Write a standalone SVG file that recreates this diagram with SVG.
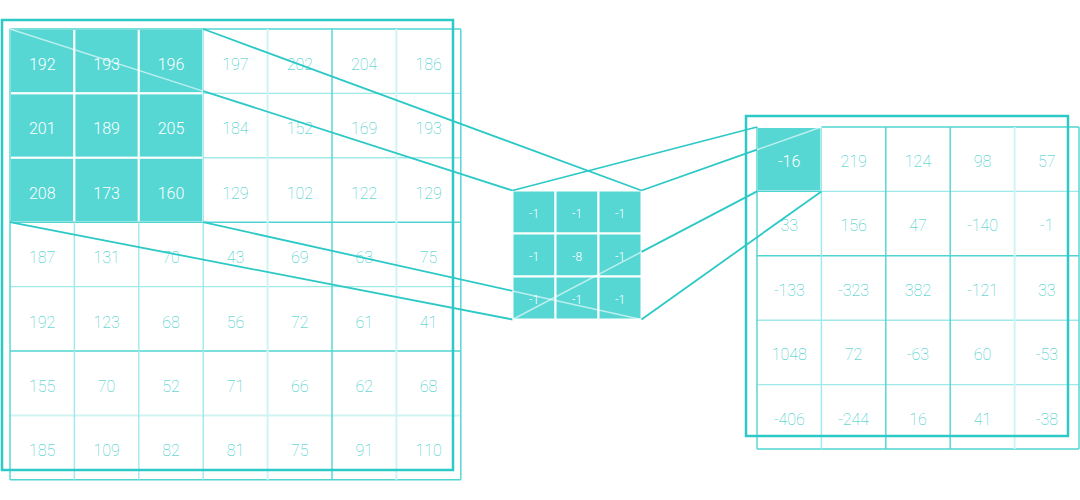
<svg xmlns="http://www.w3.org/2000/svg" width="1080" height="500" viewBox="0 0 1080 500">
<style>
.bg{fill:#ffffff}
.frame{fill:none;stroke:#2cc9c6;stroke-width:2.5}
.gm{stroke:#4fd4d1;stroke-width:1.4}
.gl{stroke:#9fe9e8;stroke-width:1.4}
.gv{stroke:#d0f4f4;stroke-width:2}
.hi{fill:#56d7d4;stroke:#ffffff;stroke-width:2}
.t{font-family:Roboto,"Liberation Sans",sans-serif;font-weight:100;font-size:16px;fill:#2cc9c6;text-anchor:middle}
.tw{font-family:Roboto,"Liberation Sans",sans-serif;font-weight:300;font-size:16px;fill:#ffffff;text-anchor:middle}
.tk{font-family:Roboto,"Liberation Sans",sans-serif;font-weight:300;font-size:12px;fill:#ffffff;text-anchor:middle}
.c{stroke:#2cc9c6;stroke-width:1.8;fill:none}
.cw{stroke:#ffffff;stroke-width:1.5;stroke-opacity:0.6;fill:none}
</style>
<rect class="bg" x="0" y="0" width="1080" height="500"/>

<g id="input-matrix">
  <rect class="hi" x="10" y="29" width="64.4" height="64.4"/>
  <rect class="hi" x="74.4" y="29" width="64.4" height="64.4"/>
  <rect class="hi" x="138.8" y="29" width="64.4" height="64.4"/>
  <rect class="hi" x="10" y="93.4" width="64.4" height="64.4"/>
  <rect class="hi" x="74.4" y="93.4" width="64.4" height="64.4"/>
  <rect class="hi" x="138.8" y="93.4" width="64.4" height="64.4"/>
  <rect class="hi" x="10" y="157.8" width="64.4" height="64.4"/>
  <rect class="hi" x="74.4" y="157.8" width="64.4" height="64.4"/>
  <rect class="hi" x="138.8" y="157.8" width="64.4" height="64.4"/>
  <line class="gm" x1="10" y1="29" x2="460.8" y2="29"/>
  <line class="gl" x1="203.2" y1="93.4" x2="460.8" y2="93.4"/>
  <line class="gl" x1="203.2" y1="157.8" x2="460.8" y2="157.8"/>
  <line class="gm" x1="10" y1="222.2" x2="460.8" y2="222.2"/>
  <line class="gl" x1="10" y1="286.6" x2="460.8" y2="286.6"/>
  <line class="gm" x1="10" y1="351" x2="460.8" y2="351"/>
  <line class="gv" x1="10" y1="415.4" x2="460.8" y2="415.4"/>
  <line class="gm" x1="10" y1="479.8" x2="460.8" y2="479.8"/>
  <line class="gm" x1="10" y1="29" x2="10" y2="479.8"/>
  <line class="gl" x1="74.4" y1="222.2" x2="74.4" y2="479.8"/>
  <line class="gl" x1="138.8" y1="222.2" x2="138.8" y2="479.8"/>
  <line class="gl" x1="203.2" y1="29" x2="203.2" y2="479.8"/>
  <line class="gv" x1="267.6" y1="29" x2="267.6" y2="479.8"/>
  <line class="gm" x1="332" y1="29" x2="332" y2="479.8"/>
  <line class="gv" x1="396.4" y1="29" x2="396.4" y2="479.8"/>
  <line class="gm" x1="460.8" y1="29" x2="460.8" y2="479.8"/>
  <rect class="frame" x="2" y="20" width="451" height="450"/>
  <text class="tw" x="42.2" y="70">192</text><text class="tw" x="106.6" y="70">193</text><text class="tw" x="171" y="70">196</text>
  <text class="t" x="235.4" y="70">197</text><text class="t" x="299.8" y="70">202</text><text class="t" x="364.2" y="70">204</text><text class="t" x="428.6" y="70">186</text>
  <text class="tw" x="42.2" y="134.4">201</text><text class="tw" x="106.6" y="134.4">189</text><text class="tw" x="171" y="134.4">205</text>
  <text class="t" x="235.4" y="134.4">184</text><text class="t" x="299.8" y="134.4">152</text><text class="t" x="364.2" y="134.4">169</text><text class="t" x="428.6" y="134.4">193</text>
  <text class="tw" x="42.2" y="198.8">208</text><text class="tw" x="106.6" y="198.8">173</text><text class="tw" x="171" y="198.8">160</text>
  <text class="t" x="235.4" y="198.8">129</text><text class="t" x="299.8" y="198.8">102</text><text class="t" x="364.2" y="198.8">122</text><text class="t" x="428.6" y="198.8">129</text>
  <text class="t" x="42.2" y="263.2">187</text><text class="t" x="106.6" y="263.2">131</text><text class="t" x="171" y="263.2">70</text><text class="t" x="235.4" y="263.2">43</text><text class="t" x="299.8" y="263.2">69</text><text class="t" x="364.2" y="263.2">63</text><text class="t" x="428.6" y="263.2">75</text>
  <text class="t" x="42.2" y="327.6">192</text><text class="t" x="106.6" y="327.6">123</text><text class="t" x="171" y="327.6">68</text><text class="t" x="235.4" y="327.6">56</text><text class="t" x="299.8" y="327.6">72</text><text class="t" x="364.2" y="327.6">61</text><text class="t" x="428.6" y="327.6">41</text>
  <text class="t" x="42.2" y="392">155</text><text class="t" x="106.6" y="392">70</text><text class="t" x="171" y="392">52</text><text class="t" x="235.4" y="392">71</text><text class="t" x="299.8" y="392">66</text><text class="t" x="364.2" y="392">62</text><text class="t" x="428.6" y="392">68</text>
  <text class="t" x="42.2" y="456.4">185</text><text class="t" x="106.6" y="456.4">109</text><text class="t" x="171" y="456.4">82</text><text class="t" x="235.4" y="456.4">81</text><text class="t" x="299.8" y="456.4">75</text><text class="t" x="364.2" y="456.4">91</text><text class="t" x="428.6" y="456.4">110</text>
</g>

<g id="kernel">
  <rect class="hi" x="512.5" y="190.5" width="43" height="43"/>
  <rect class="hi" x="555.5" y="190.5" width="43" height="43"/>
  <rect class="hi" x="598.5" y="190.5" width="43" height="43"/>
  <rect class="hi" x="512.5" y="233.5" width="43" height="43"/>
  <rect class="hi" x="555.5" y="233.5" width="43" height="43"/>
  <rect class="hi" x="598.5" y="233.5" width="43" height="43"/>
  <rect class="hi" x="512.5" y="276.5" width="43" height="43"/>
  <rect class="hi" x="555.5" y="276.5" width="43" height="43"/>
  <rect class="hi" x="598.5" y="276.5" width="43" height="43"/>
  <text class="tk" x="534" y="218">-1</text><text class="tk" x="577" y="218">-1</text><text class="tk" x="620" y="218">-1</text>
  <text class="tk" x="534" y="261">-1</text><text class="tk" x="577" y="261">-8</text><text class="tk" x="620" y="261">-1</text>
  <text class="tk" x="534" y="304">-1</text><text class="tk" x="577" y="304">-1</text><text class="tk" x="620" y="304">-1</text>
</g>

<g id="output-matrix">
  <rect class="hi" x="757" y="127" width="64.4" height="64.4"/>
  <line class="gm" x1="821.4" y1="127" x2="1079" y2="127"/>
  <line class="gl" x1="821.4" y1="191.4" x2="1079" y2="191.4"/>
  <line class="gm" x1="757" y1="191.4" x2="821.4" y2="191.4"/>
  <line class="gm" x1="757" y1="255.8" x2="1079" y2="255.8"/>
  <line class="gl" x1="757" y1="320.2" x2="1079" y2="320.2"/>
  <line class="gl" x1="757" y1="384.6" x2="1079" y2="384.6"/>
  <line class="gm" x1="757" y1="449" x2="1079" y2="449"/>
  <line class="gm" x1="757" y1="127" x2="757" y2="449"/>
  <line class="gl" x1="821.4" y1="127" x2="821.4" y2="449"/>
  <line class="gm" x1="885.8" y1="127" x2="885.8" y2="449"/>
  <line class="gm" x1="950.2" y1="127" x2="950.2" y2="449"/>
  <line class="gv" x1="1014.6" y1="127" x2="1014.6" y2="449"/>
  <line class="gm" x1="1079" y1="127" x2="1079" y2="449"/>
  <rect class="frame" x="746" y="116" width="322" height="320"/>
  <text class="tw" x="789.2" y="167">-16</text><text class="t" x="853.6" y="167">219</text><text class="t" x="918" y="167">124</text><text class="t" x="982.4" y="167">98</text><text class="t" x="1046.8" y="167">57</text>
  <text class="t" x="789.2" y="231.4">33</text><text class="t" x="853.6" y="231.4">156</text><text class="t" x="918" y="231.4">47</text><text class="t" x="982.4" y="231.4">-140</text><text class="t" x="1046.8" y="231.4">-1</text>
  <text class="t" x="789.2" y="295.8">-133</text><text class="t" x="853.6" y="295.8">-323</text><text class="t" x="918" y="295.8">382</text><text class="t" x="982.4" y="295.8">-121</text><text class="t" x="1046.8" y="295.8">33</text>
  <text class="t" x="789.2" y="360.2">1048</text><text class="t" x="853.6" y="360.2">72</text><text class="t" x="918" y="360.2">-63</text><text class="t" x="982.4" y="360.2">60</text><text class="t" x="1046.8" y="360.2">-53</text>
  <text class="t" x="789.2" y="424.6">-406</text><text class="t" x="853.6" y="424.6">-244</text><text class="t" x="918" y="424.6">16</text><text class="t" x="982.4" y="424.6">41</text><text class="t" x="1046.8" y="424.6">-38</text>
</g>

<g id="connectors">
  <line class="c" x1="203.2" y1="29" x2="641.5" y2="190.5"/>
  <line class="cw" x1="10" y1="29" x2="203.2" y2="91.1"/>
  <line class="c" x1="203.2" y1="91.1" x2="512.5" y2="190.5"/>
  <line class="c" x1="10" y1="222.2" x2="512.5" y2="319.5"/>
  <line class="c" x1="203.2" y1="222.2" x2="512.5" y2="290.9"/>
  <line class="cw" x1="512.5" y1="290.9" x2="641.5" y2="319.5"/>
  <line class="c" x1="512.5" y1="190.5" x2="757" y2="127"/>
  <line class="c" x1="641.5" y1="190.5" x2="757" y2="149.7"/>
  <line class="cw" x1="757" y1="149.7" x2="821.4" y2="127"/>
  <line class="cw" x1="512.5" y1="319.5" x2="641.5" y2="251.9"/>
  <line class="c" x1="641.5" y1="251.9" x2="757" y2="191.4"/>
  <line class="c" x1="641.5" y1="319.5" x2="821.4" y2="191.4"/>
</g>
</svg>
